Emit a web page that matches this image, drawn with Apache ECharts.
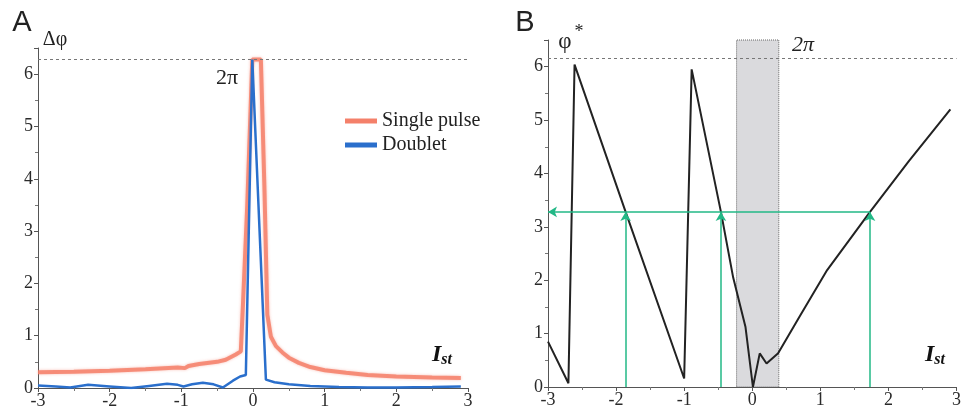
<!DOCTYPE html>
<html>
<head>
<meta charset="utf-8">
<script src="https://cdn.jsdelivr.net/npm/echarts@6/dist/echarts.min.js"></script>
<style>
  html, body { margin: 0; padding: 0; background: #fff; }
  #chart { width: 964px; height: 411px; }
</style>
</head>
<body>
<div id="chart"></div>
<script>
// Panel A: phase shift vs stimulus strength
const singlePulseX = [-3, -2.5, -2, -1.5, -1.05, -0.95, -0.9, -0.75, -0.5, -0.38, -0.24, -0.17, -0.14, -0.08, -0.01, 0.11, 0.16, 0.2, 0.25, 0.32, 0.41, 0.5, 0.64, 0.8, 1.0, 1.3, 1.6, 2.0, 2.5, 2.9];
const singlePulseY = [0.3, 0.31, 0.33, 0.36, 0.39, 0.38, 0.42, 0.46, 0.5, 0.54, 0.64, 0.7, 1.6, 3.5, 6.28, 6.28, 3.8, 1.4, 0.98, 0.8, 0.68, 0.58, 0.48, 0.4, 0.34, 0.29, 0.25, 0.22, 0.2, 0.19];
const doubletX = [-3, -2.75, -2.55, -2.3, -2.0, -1.7, -1.45, -1.2, -1.05, -0.97, -0.85, -0.7, -0.55, -0.42, -0.28, -0.18, -0.1, -0.01, 0.18, 0.3, 0.5, 0.8, 1.2, 1.6, 2.0, 2.5, 2.9];
const doubletY = [0.05, 0.03, 0.01, 0.06, 0.03, 0.0, 0.04, 0.08, 0.06, 0.03, 0.07, 0.1, 0.07, 0.01, 0.14, 0.22, 0.25, 6.28, 0.16, 0.11, 0.07, 0.04, 0.02, 0.01, 0.01, 0.02, 0.03];
const twoPiA = 6.28;

// Panel B: new phase vs stimulus strength
const phaseX = [-3, -2.7, -2.61, -1.86, -1.0, -0.89, -0.46, -0.28, -0.1, 0.01, 0.11, 0.21, 0.38, 0.7, 1.1, 1.73, 2.3, 2.91];
const phaseY = [0.85, 0.07, 6.04, 3.28, 0.16, 5.95, 3.28, 2.05, 1.13, 0.0, 0.63, 0.44, 0.63, 1.33, 2.19, 3.28, 4.23, 5.2];
const twoPiB = 6.15;
const shadedRange = [-0.23, 0.39];
const targetLevel = 3.28;
const crossingsX = [-1.86, -0.46, 1.73];

const xTicks = { min: -3, max: 3, interval: 1 };
const yTicks = { min: 0, max: 6.5, interval: 1 };

const pair = (xs, ys) => xs.map((x, i) => [x, ys[i]]);

const serif = 'Liberation Serif';
const green = '#22b886';

const tickText = v => (Number.isInteger(v) ? String(v) : '');

function xAxisDef(gridIndex) {
  return {
    gridIndex, type: 'value', min: xTicks.min, max: xTicks.max, interval: xTicks.interval,
    axisLine: { show: true, onZero: false, lineStyle: { color: '#555', width: 1 } },
    axisTick: { show: true, length: 4, lineStyle: { color: '#555' } },
    minorTick: { show: true, splitNumber: 2, length: 3, lineStyle: { color: '#777' } },
    splitLine: { show: false },
    axisLabel: { margin: 4, fontFamily: serif, fontSize: 18, color: '#2a2a2a', formatter: tickText }
  };
}
function yAxisDef(gridIndex) {
  return {
    gridIndex, type: 'value', min: yTicks.min, max: yTicks.max, interval: yTicks.interval,
    axisLine: { show: true, onZero: false, lineStyle: { color: '#555', width: 1 } },
    axisTick: { show: true, length: 4, lineStyle: { color: '#555' } },
    minorTick: { show: true, splitNumber: 2, length: 3, lineStyle: { color: '#777' } },
    splitLine: { show: false },
    axisLabel: { margin: 5, fontFamily: serif, fontSize: 18, color: '#2a2a2a', formatter: tickText }
  };
}

const dashedLevel = (y) => ({
  silent: true, symbol: 'none', label: { show: false },
  lineStyle: { type: [3, 3], color: '#777', width: 1 },
  data: [{ yAxis: y }]
});

const arrowLines = [
  ...crossingsX.map(x => [
    { coord: [x, 0], symbol: 'none' },
    { coord: [x, targetLevel], symbol: 'arrow' }
  ]),
  [
    { coord: [crossingsX[crossingsX.length - 1], targetLevel], symbol: 'none' },
    { coord: [xTicks.min, targetLevel], symbol: 'arrow' }
  ]
];

const chart = echarts.init(document.getElementById('chart'), null, { renderer: 'canvas' });

chart.setOption({
  animation: false,
  backgroundColor: '#fff',
  textStyle: { fontFamily: serif },
  grid: [
    { left: 38, top: 48, width: 430, height: 340 },
    { left: 548, top: 40, width: 412, height: 347 }
  ],
  xAxis: [xAxisDef(0), xAxisDef(1)],
  yAxis: [yAxisDef(0), yAxisDef(1)],
  legend: {
    left: 340, top: 106, orient: 'vertical',
    itemWidth: 32, itemHeight: 5, itemGap: 4, icon: 'rect',
    textStyle: { fontFamily: serif, fontSize: 20, color: '#222' },
    data: ['Single pulse', 'Doublet']
  },
  series: [
    {
      name: 'Single pulse', type: 'line', xAxisIndex: 0, yAxisIndex: 0,
      data: pair(singlePulseX, singlePulseY), showSymbol: false, symbol: 'none',
      color: '#f4806a',
      lineStyle: { color: '#f4806a', width: 4, opacity: 0.85, shadowBlur: 3, shadowColor: 'rgba(240,110,90,0.5)' },
      markLine: dashedLevel(twoPiA), z: 2
    },
    {
      name: 'Doublet', type: 'line', xAxisIndex: 0, yAxisIndex: 0,
      data: pair(doubletX, doubletY), showSymbol: false, symbol: 'none',
      color: '#2a6fcc',
      lineStyle: { color: '#2a6fcc', width: 2.5 }, z: 3
    },
    {
      name: 'phase', type: 'line', xAxisIndex: 1, yAxisIndex: 1,
      data: pair(phaseX, phaseY), showSymbol: false, symbol: 'none',
      lineStyle: { color: '#222', width: 2 },
      markArea: {
        silent: true,
        itemStyle: { color: 'rgba(205,206,210,0.75)', borderColor: '#666', borderWidth: 1, borderType: 'dotted' },
        data: [[{ coord: [shadedRange[0], yTicks.min] }, { coord: [shadedRange[1], yTicks.max] }]]
      },
      markLine: dashedLevel(twoPiB), z: 3
    },
    {
      name: 'crossings', type: 'line', xAxisIndex: 1, yAxisIndex: 1,
      data: [], symbol: 'none',
      markLine: {
        silent: true, symbolSize: [8, 9], label: { show: false },
        lineStyle: { type: 'solid', color: green, width: 1.5 },
        data: arrowLines
      }, z: 4
    }
  ],
  graphic: [
    { type: 'text', style: { x: 22, y: 23, text: 'A', fontFamily: 'Liberation Sans', fontSize: 29, fill: '#222', align: 'center', verticalAlign: 'middle' } },
    { type: 'text', style: { x: 525, y: 23, text: 'B', fontFamily: 'Liberation Sans', fontSize: 29, fill: '#222', align: 'center', verticalAlign: 'middle' } },
    { type: 'text', style: { x: 55, y: 40, text: 'Δφ', fontFamily: serif, fontSize: 20, fill: '#222', align: 'center', verticalAlign: 'middle' } },
    { type: 'text', style: { x: 565, y: 42, text: 'φ', fontFamily: serif, fontSize: 23, fill: '#222', align: 'center', verticalAlign: 'middle' } },
    { type: 'text', style: { x: 579, y: 32, text: '*', fontFamily: serif, fontSize: 18, fill: '#222', align: 'center', verticalAlign: 'middle' } },
    { type: 'text', style: { x: 227, y: 78, text: '2π', fontFamily: serif, fontSize: 22, fill: '#222', align: 'center', verticalAlign: 'middle' } },
    { type: 'text', style: { x: 803, y: 45, text: '2π', fontFamily: serif, fontStyle: 'italic', fontSize: 22, fill: '#222', align: 'center', verticalAlign: 'middle' } },
    { type: 'text', style: { x: 432, y: 355, text: '{i|I}{s|st}', fontFamily: serif, fill: '#111', verticalAlign: 'middle',
      rich: { i: { fontSize: 24, fontStyle: 'italic', fontWeight: 'bold', fontFamily: serif, fill: '#111' },
              s: { fontSize: 16, fontStyle: 'italic', fontWeight: 'bold', fontFamily: serif, fill: '#111', padding: [10, 0, 0, 0] } } } },
    { type: 'text', style: { x: 925, y: 355, text: '{i|I}{s|st}', fontFamily: serif, fill: '#111', verticalAlign: 'middle',
      rich: { i: { fontSize: 24, fontStyle: 'italic', fontWeight: 'bold', fontFamily: serif, fill: '#111' },
              s: { fontSize: 16, fontStyle: 'italic', fontWeight: 'bold', fontFamily: serif, fill: '#111', padding: [10, 0, 0, 0] } } } }
  ]
});
</script>
</body>
</html>
